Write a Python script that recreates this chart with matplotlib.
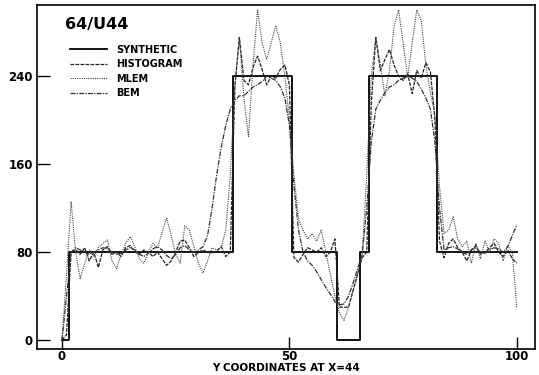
import matplotlib
matplotlib.use("Agg")
import matplotlib.pyplot as plt
import numpy as np

# posiciones a lo largo de Y (x = 44)
y_coord = np.arange(0, 101)

synthetic = ([0, 0] + [80] * 36 + [240] * 13 + [80] * 10 + [0] * 5 + [80] * 2
             + [240] * 15 + [80] * 18)

histogram = [0, 5, 80, 82, 78, 84, 72, 80, 66, 82,
             85, 78, 80, 76, 84, 86, 80, 78, 82, 80,
             76, 80, 74, 68, 72, 80, 90, 91, 84, 76,
             80, 82, 80, 79, 81, 85, 76, 80, 230, 275,
             236, 232, 248, 258, 246, 232, 240, 238, 246, 250,
             232, 75, 71, 78, 84, 82, 80, 84, 76, 80,
             92, 30, 30, 30, 45, 60, 75, 80, 215, 275,
             245, 255, 264, 250, 240, 236, 242, 224, 245, 238,
             252, 244, 200, 90, 75, 88, 92, 84, 80, 72,
             82, 86, 78, 80, 84, 88, 80, 76, 82, 74,
             70]

mlem = [0, 60, 126, 80, 56, 70, 82, 76, 84, 88,
        91, 72, 65, 78, 88, 94, 85, 74, 70, 80,
        88, 84, 98, 111, 95, 78, 70, 104, 100, 85,
        70, 61, 72, 84, 82, 84, 100, 150, 230, 275,
        220, 185, 250, 300, 270, 255, 270, 286, 270, 240,
        200, 150, 110, 100, 92, 97, 90, 100, 80, 60,
        40, 25, 18, 30, 45, 60, 78, 150, 240, 275,
        250, 222, 245, 285, 300, 270, 239, 270, 300, 290,
        250, 225, 205, 140, 97, 100, 112, 92, 85, 90,
        70, 88, 74, 90, 80, 92, 88, 72, 86, 80,
        29]

bem = [0, 40, 80, 84, 82, 80, 78, 80, 82, 84,
       83, 80, 78, 79, 82, 84, 82, 78, 76, 79,
       83, 85, 82, 77, 74, 78, 84, 86, 82, 80,
       82, 85, 95, 120, 150, 175, 195, 210, 218, 222,
       222, 226, 230, 232, 235, 240, 238, 236, 230, 220,
       195, 140, 100, 80, 72, 68, 62, 55, 48, 42,
       35, 32, 33, 40, 52, 65, 78, 120, 180, 210,
       218, 225, 230, 232, 236, 238, 240, 238, 235, 228,
       220, 210, 180, 120, 82, 84, 85, 83, 80, 78,
       82, 84, 80, 79, 82, 84, 83, 80, 85, 95,
       105]

y_ticks = [0, 80, 160, 240]
x_ticks = [0, 50, 100]

fig = plt.figure(figsize=(5.39, 3.75), dpi=100)
ax = fig.add_axes([0.0686, 0.0693, 0.924, 0.9174])

ax.plot(y_coord, synthetic, color="black", lw=1.3, drawstyle="steps-mid", label="SYNTHETIC")
ax.plot(y_coord, histogram, color="#222222", lw=0.9, ls=(0, (3, 1)), label="HISTOGRAM")
ax.plot(y_coord, mlem, color="#444444", lw=0.8, ls=(0, (1, 1)), label="MLEM")
ax.plot(y_coord, bem, color="#333333", lw=0.9, ls=(0, (4, 1, 1, 1)), label="BEM")

ax.set_xlim(-5.5, 104)
ax.set_ylim(-8, 304.5)
ax.set_xticks(x_ticks)
ax.set_yticks(y_ticks)
ax.tick_params(direction="in", length=9, width=1, pad=3, labelsize=8.5)
ax.tick_params(axis="x", pad=0.5)
for lab in ax.get_xticklabels() + ax.get_yticklabels():
    lab.set_fontweight("bold")
for s in ax.spines.values():
    s.set_linewidth(1.2)

ax.set_xlabel("Y COORDINATES AT X=44", fontsize=7.5, fontweight="bold", labelpad=0)
ax.text(0.057, 0.965, "64/U44", transform=ax.transAxes, fontsize=11.5,
        fontweight="heavy", va="top", ha="left")

ax.legend(loc="upper left", bbox_to_anchor=(0.066, 0.884), frameon=False,
          borderaxespad=0, borderpad=0, handlelength=3.8, handletextpad=1.0,
          labelspacing=0.45, prop={"size": 7, "weight": "bold"})

fig.savefig("out.png", dpi=100)
